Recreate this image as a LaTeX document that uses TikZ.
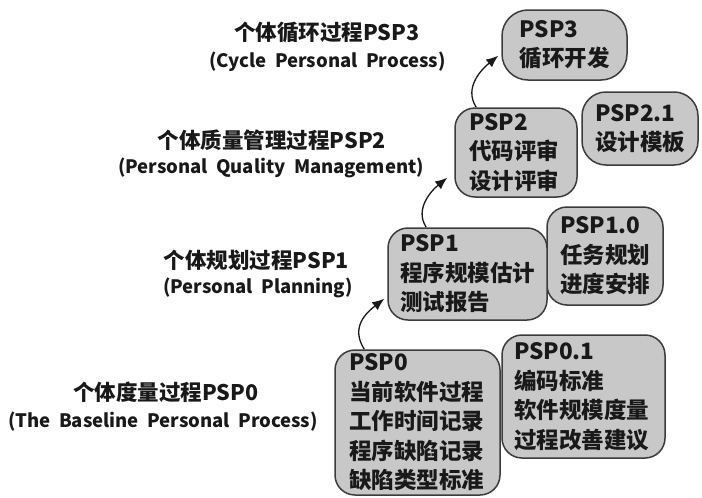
\documentclass[tikz,border=0pt]{standalone}
\usepackage{fontspec}
\setmainfont{Noto Sans CJK SC}
\usetikzlibrary{arrows.meta,calc}
\definecolor{boxfill}{RGB}{200,200,200}
\definecolor{boxline}{RGB}{60,60,60}
\definecolor{ink}{RGB}{25,25,25}
\tikzset{
  pspbox/.style={draw=boxline, fill=boxfill, line width=1.5pt, rounded corners=20pt,
    align=left, font=\fontsize{22.5}{29.5}\selectfont\bfseries, text=ink,
    inner ysep=0pt, anchor=center},
  cntitle/.style={font=\fontsize{21.5}{24}\selectfont\bfseries, text=ink, inner sep=0pt},
  entitle/.style={font=\fontsize{18.5}{22}\selectfont\bfseries, text=ink, inner sep=0pt},
  flow/.style={draw=ink, line width=1.3pt, -{Latex[length=12pt,width=10pt]}}
}
\begin{document}
\begin{tikzpicture}[x=1pt,y=-1pt]
\useasboundingbox[fill=white] (0,0) rectangle (702,498);

% boxes
\node[pspbox, minimum width=163pt, minimum height=123pt, inner xsep=12pt, text width=139pt]
  (p01) at (583.5,396.5) {PSP0.1\\编码标准\\软件规模度量\\过程改善建议};
\node[pspbox, minimum width=165pt, minimum height=145pt, inner xsep=14pt, text width=137pt]
  (p0) at (417.5,422.5) {PSP0\\当前软件过程\\工作时间记录\\程序缺陷记录\\缺陷类型标准};
\node[pspbox, minimum width=116pt, minimum height=98pt, inner xsep=13pt, text width=90pt]
  (p10) at (605,256) {PSP1.0\\任务规划\\进度安排};
\node[pspbox, minimum width=159pt, minimum height=92pt, inner xsep=12pt, text width=135pt]
  (p1) at (467.5,274) {PSP1\\程序规模估计\\测试报告};
\node[pspbox, minimum width=116pt, minimum height=73pt, inner xsep=13pt, text width=90pt, rounded corners=24pt]
  (p21) at (640,128.5) {PSP2.1\\设计模板};
\node[pspbox, minimum width=122pt, minimum height=89pt, inner xsep=14pt, text width=94pt]
  (p2) at (516,152.5) {PSP2\\代码评审\\设计评审};
\node[pspbox, minimum width=125pt, minimum height=70pt, inner xsep=17.5pt, text width=90pt, rounded corners=26pt]
  (p3) at (564.5,45) {PSP3\\循环开发};

% titles
\node[cntitle] (t3a) at (327,33) {个体循环过程PSP3};
\node[entitle] (t3b) at (327.5,62) {(Cycle \ Personal \ Process)};
\node[cntitle] (t2a) at (272,140) {个体质量管理过程PSP2};
\node[entitle] (t2b) at (271,168) {(Personal \ Quality \ Management)};
\node[cntitle] (t1a) at (256.5,260) {个体规划过程PSP1};
\node[entitle] (t1b) at (258,288) {(Personal \ Planning)};
\node[cntitle] (t0a) at (166,392) {个体度量过程PSP0};
\node[entitle] (t0b) at (163,422) {(The \ Baseline \ Personal \ Process)};

% arrows
\draw[flow] ([xshift=30pt]p0.north west) .. controls +(-14,-22) and +(-18,14) ..
  ([xshift=-3pt,yshift=22pt]p1.south west);
\draw[flow] ([xshift=39pt]p1.north west) .. controls +(-12,-18) and +(-16,13) ..
  ([xshift=-7pt,yshift=20pt]p2.south west);
\draw[flow] ([xshift=22pt]p2.north west) .. controls +(-13,-20) and +(-16,13) ..
  ([xshift=-3pt,yshift=25pt]p3.south west);
\end{tikzpicture}
\end{document}
